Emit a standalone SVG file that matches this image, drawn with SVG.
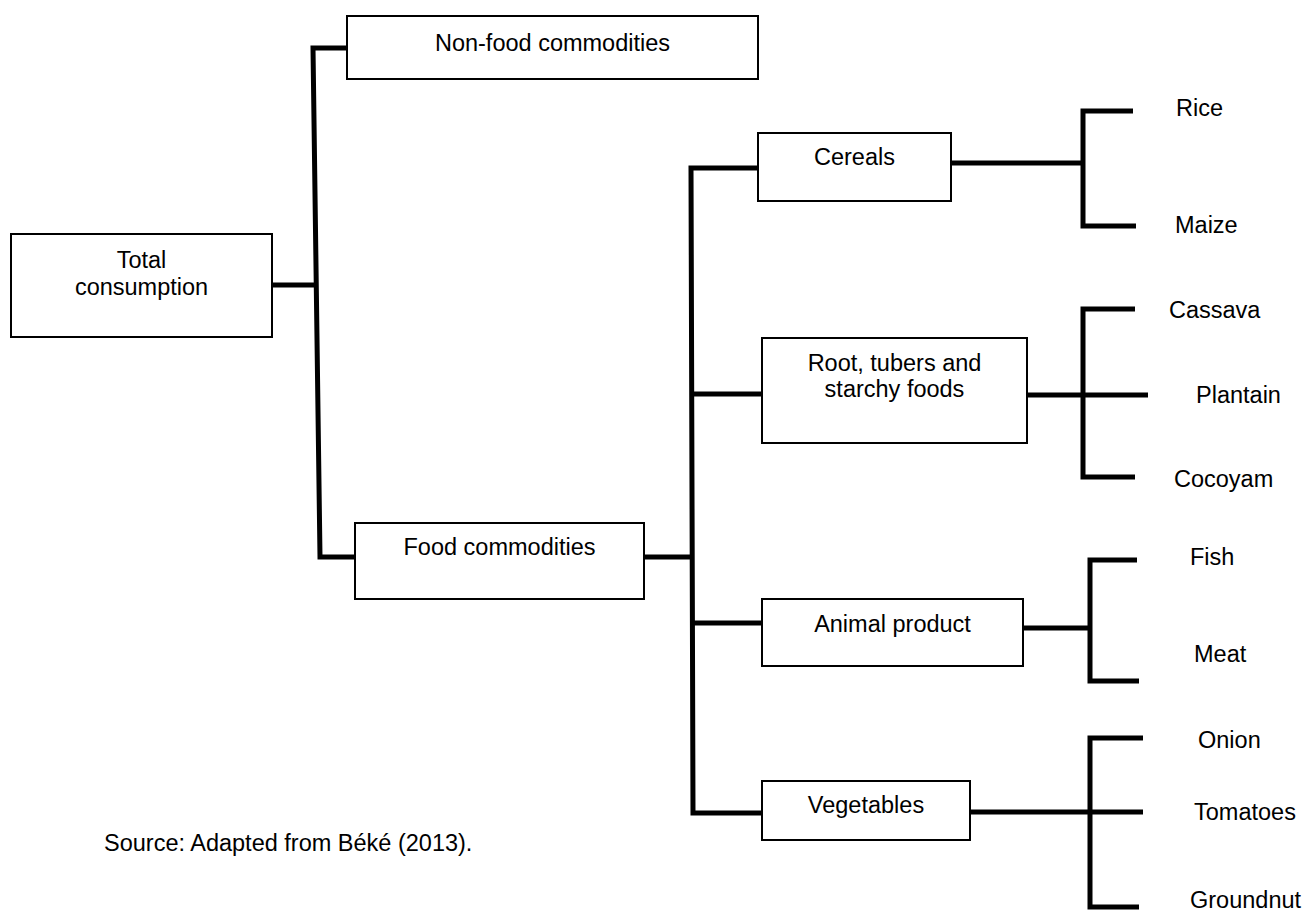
<svg xmlns="http://www.w3.org/2000/svg" width="1303" height="913" viewBox="0 0 1303 913">
<style>
.box{fill:#fff;stroke:#000;stroke-width:2}
.ln{fill:none;stroke:#000;stroke-width:5;stroke-linejoin:miter;stroke-linecap:butt}
text{font-family:"Liberation Sans",Arial,sans-serif;font-size:23.5px;fill:#000}
.c{text-anchor:middle}
</style>
<rect width="1303" height="913" fill="#fff"/>
<g id="connectors">
<polyline class="ln" points="347,48 313,48 320,557 355,557"/>
<line class="ln" x1="272" y1="285" x2="316" y2="285"/>
<line class="ln" x1="644" y1="557" x2="692" y2="557"/>
<polyline class="ln" points="758,168 691,168 693,813 762,813"/>
<line class="ln" x1="692" y1="394" x2="762" y2="394"/>
<line class="ln" x1="692" y1="623" x2="762" y2="623"/>
<line class="ln" x1="951" y1="163" x2="1083" y2="163"/>
<polyline class="ln" points="1133,111 1083,111 1083,226 1136,226"/>
<line class="ln" x1="1027" y1="395" x2="1148" y2="395"/>
<polyline class="ln" points="1135,309 1083,309 1083,477 1135,477"/>
<line class="ln" x1="1023" y1="628" x2="1090" y2="628"/>
<polyline class="ln" points="1137,560 1090,560 1090,681 1139,681"/>
<line class="ln" x1="970" y1="812" x2="1143" y2="812"/>
<polyline class="ln" points="1143,738 1090,738 1090,907 1139,907"/>
</g>
<g id="total">
<rect class="box" x="11" y="234" width="261" height="103"/>
<text class="c" x="141.5" y="268">Total</text>
<text class="c" x="141.5" y="295">consumption</text>
</g>
<g id="nonfood">
<rect class="box" x="347" y="16" width="411" height="63"/>
<text class="c" x="552.5" y="51">Non-food commodities</text>
</g>
<g id="food">
<rect class="box" x="355" y="523" width="289" height="76"/>
<text class="c" x="499.5" y="555">Food commodities</text>
</g>
<g id="cereals">
<rect class="box" x="758" y="133" width="193" height="68"/>
<text class="c" x="854.5" y="165">Cereals</text>
</g>
<g id="roots">
<rect class="box" x="762" y="338" width="265" height="105"/>
<text class="c" x="894.5" y="371">Root, tubers and</text>
<text class="c" x="894.5" y="397">starchy foods</text>
</g>
<g id="animal">
<rect class="box" x="762" y="599" width="261" height="67"/>
<text class="c" x="892.5" y="632">Animal product</text>
</g>
<g id="vegetables">
<rect class="box" x="762" y="781" width="208" height="59"/>
<text class="c" x="866" y="813">Vegetables</text>
</g>
<g id="leaves">
<text id="rice" x="1176" y="116">Rice</text>
<text id="maize" x="1175" y="233">Maize</text>
<text id="cassava" x="1169" y="318">Cassava</text>
<text id="plantain" x="1196" y="403">Plantain</text>
<text id="cocoyam" x="1174" y="487">Cocoyam</text>
<text id="fish" x="1190" y="565">Fish</text>
<text id="meat" x="1194" y="662">Meat</text>
<text id="onion" x="1198" y="748">Onion</text>
<text id="tomatoes" x="1194" y="820">Tomatoes</text>
<text id="groundnut" x="1190" y="908">Groundnut</text>
</g>
<text id="source" x="104" y="851">Source: Adapted from Béké (2013).</text>
</svg>
